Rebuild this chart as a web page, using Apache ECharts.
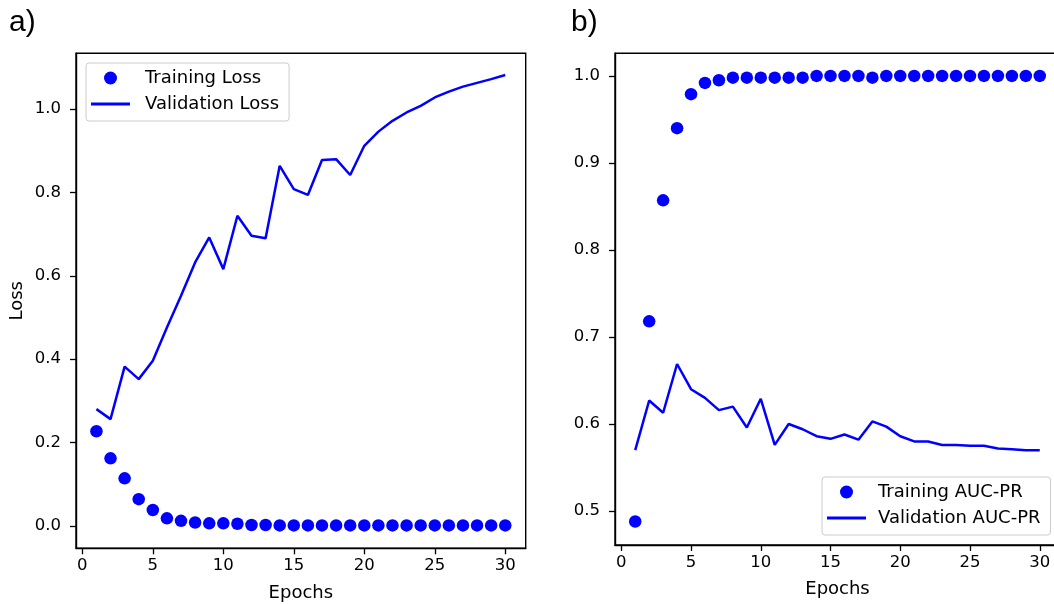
<!DOCTYPE html>
<html>
<head>
<meta charset="utf-8">
<script src="https://cdn.jsdelivr.net/npm/echarts@6/dist/echarts.min.js"></script>
<style>
html,body{margin:0;padding:0;background:#fff;}
#chart{width:1054px;height:604px;}
</style>
</head>
<body>
<div id="chart"></div>
<script>
const epochs = [1,2,3,4,5,6,7,8,9,10,11,12,13,14,15,16,17,18,19,20,21,22,23,24,25,26,27,28,29,30];
const trainingLoss = [0.227,0.162,0.114,0.064,0.038,0.018,0.012,0.008,0.006,0.006,0.005,0.002,0.002,0.001,0.001,0.001,0.001,0.001,0.001,0.001,0.001,0.001,0.001,0.001,0.001,0.001,0.001,0.001,0.001,0.001];
const validationLoss = [0.280,0.256,0.382,0.352,0.396,0.476,0.552,0.632,0.692,0.616,0.744,0.696,0.690,0.864,0.808,0.794,0.878,0.880,0.842,0.912,0.946,0.972,0.992,1.008,1.028,1.042,1.054,1.063,1.072,1.082];
const trainingAUC = [0.488,0.718,0.857,0.940,0.979,0.992,0.995,0.998,0.998,0.998,0.998,0.998,0.998,1.000,1.000,1.000,1.000,0.998,1.000,1.000,1.000,1.000,1.000,1.000,1.000,1.000,1.000,1.000,1.000,1.000];
const validationAUC = [0.570,0.627,0.613,0.669,0.640,0.630,0.616,0.620,0.596,0.629,0.576,0.600,0.594,0.586,0.583,0.588,0.582,0.603,0.597,0.586,0.580,0.580,0.576,0.576,0.575,0.575,0.572,0.571,0.570,0.570];
const xTicks = [0,5,10,15,20,25,30];
const lossTicks = [0.0,0.2,0.4,0.6,0.8,1.0];
const aucTicks = [0.5,0.6,0.7,0.8,0.9,1.0];

const BLUE = '#0000ff';
const TICK_FONT = 'DejaVu Sans';
const pair = (xs, ys) => xs.map((x, i) => [x, ys[i]]);

function xAxis(gridIndex, nameGap) {
  return {
    type: 'value', gridIndex, min: -0.45, max: 31.45,
    name: 'Epochs', nameLocation: 'middle', nameGap,
    nameTextStyle: {fontFamily: TICK_FONT, fontSize: 18, color: '#000'},
    axisLine: {show: true, onZero: false, lineStyle: {color: '#000', width: 1.4}},
    axisTick: {show: true, length: 6, customValues: xTicks, lineStyle: {color: '#000', width: 1.3}},
    axisLabel: {show: true, margin: 9, customValues: xTicks, fontFamily: TICK_FONT, fontSize: 16.5, color: '#000', formatter: v => String(v)},
    splitLine: {show: false}
  };
}
function yAxis(gridIndex, min, max, ticks, name) {
  return {
    type: 'value', gridIndex, min, max,
    name: name, nameLocation: 'middle', nameGap: 50, nameRotate: 90,
    nameTextStyle: {fontFamily: TICK_FONT, fontSize: 18, color: '#000'},
    axisLine: {show: true, onZero: false, lineStyle: {color: '#000', width: 1.4}},
    axisTick: {show: true, length: 6, customValues: ticks, lineStyle: {color: '#000', width: 1.3}},
    axisLabel: {show: true, margin: 15, customValues: ticks, fontFamily: TICK_FONT, fontSize: 16.5, color: '#000', formatter: v => v.toFixed(1)},
    splitLine: {show: false}
  };
}
function legend(left, top, names, textPad) {
  return {
    orient: 'vertical', left, top,
    itemWidth: 39, itemHeight: 13, itemGap: 6,
    padding: [5, 10, 7, 5],
    borderColor: '#cccccc', borderWidth: 1, borderRadius: 3,
    backgroundColor: 'rgba(255,255,255,0.8)',
    selectedMode: false,
    textStyle: {fontFamily: TICK_FONT, fontSize: 18, color: '#000', lineHeight: 20, padding: [0, 0, 0, textPad]},
    data: [
      {name: names[0], icon: 'circle', itemStyle: {color: BLUE}},
      {name: names[1], icon: 'path://M0,0L40,0L40,3L0,3Z', itemStyle: {color: BLUE}}
    ]
  };
}

const chart = echarts.init(document.getElementById('chart'), null, {renderer: 'canvas'});
chart.setOption({
  animation: false,
  backgroundColor: '#fff',
  title: [
    {text: 'a)', left: 9, top: 8, padding: 0, textStyle: {fontFamily: 'Liberation Sans', fontSize: 30, fontWeight: 'normal', color: '#000'}},
    {text: 'b)', left: 571, top: 8, padding: 0, textStyle: {fontFamily: 'Liberation Sans', fontSize: 30, fontWeight: 'normal', color: '#000'}}
  ],
  grid: [
    {left: 76, top: 53.3, width: 449.7, height: 495, show: true, borderColor: '#000', borderWidth: 1.4, backgroundColor: 'transparent', containLabel: false, outerBoundsMode: 'none'},
    {left: 615, top: 53.3, width: 445, height: 491.7, show: true, borderColor: '#000', borderWidth: 1.4, backgroundColor: 'transparent', containLabel: false, outerBoundsMode: 'none'}
  ],
  xAxis: [xAxis(0, 36), xAxis(1, 35)],
  yAxis: [yAxis(0, -0.054, 1.134, lossTicks, 'Loss'), yAxis(1, 0.461, 1.026, aucTicks, '')],
  legend: [
    legend(86, 63, ['Training Loss', 'Validation Loss'], 10),
    legend(822, 477, ['Training AUC-PR', 'Validation AUC-PR'], 7)
  ],
  series: [
    {name: 'Training Loss', type: 'scatter', xAxisIndex: 0, yAxisIndex: 0, data: pair(epochs, trainingLoss), symbolSize: 12.5, itemStyle: {color: BLUE, opacity: 1}},
    {name: 'Validation Loss', type: 'line', xAxisIndex: 0, yAxisIndex: 0, data: pair(epochs, validationLoss), showSymbol: false, symbol: 'none', color: BLUE, lineStyle: {color: BLUE, width: 2.5}},
    {name: 'Training AUC-PR', type: 'scatter', xAxisIndex: 1, yAxisIndex: 1, data: pair(epochs, trainingAUC), symbolSize: 12.5, itemStyle: {color: BLUE, opacity: 1}},
    {name: 'Validation AUC-PR', type: 'line', xAxisIndex: 1, yAxisIndex: 1, data: pair(epochs, validationAUC), showSymbol: false, symbol: 'none', color: BLUE, lineStyle: {color: BLUE, width: 2.5}}
  ]
});
</script>
</body>
</html>
